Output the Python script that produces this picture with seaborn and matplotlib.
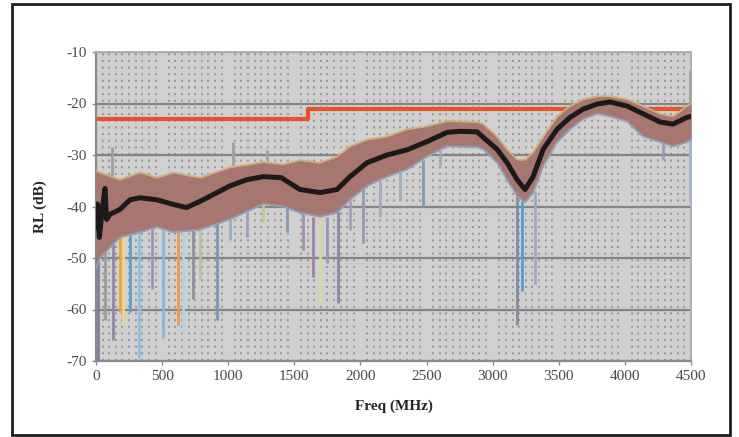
import numpy as np
import pandas as pd
import seaborn as sns
from matplotlib import pyplot as plt
from matplotlib.patches import Rectangle
from matplotlib.ticker import MultipleLocator

# average return loss trace (black line), MHz / dB
mean_f = [0, 10, 25, 50, 68, 80, 106, 180, 257, 333, 461, 585, 685, 787, 885, 1013,
          1140, 1265, 1400, 1543, 1694, 1823, 1921, 2050, 2201, 2352, 2504, 2655,
          2753, 2882, 2930, 3033, 3109, 3185, 3245, 3306, 3382, 3487, 3585, 3684,
          3790, 3888, 4017, 4137, 4266, 4364, 4470, 4500]
mean_v = [-44, -39.5, -46, -40, -36.5, -42.5, -41.5, -40.6, -38.7, -38.3, -38.7, -39.6,
          -40.2, -39, -37.7, -36, -34.8, -34.2, -34.4, -36.7, -37.3, -36.7, -34.2,
          -31.5, -30, -29, -27.4, -25.6, -25.4, -25.5, -26.6, -28.9, -31.5, -34.8,
          -36.7, -34.2, -28.9, -25, -22.7, -21.1, -20.1, -19.7, -20.5, -22, -23.6,
          -24, -22.7, -22.5]

# spread of the individual traces (upper / lower edge of the dense band)
band_f = [0, 30, 180, 333, 461, 585, 787, 1013, 1265, 1415, 1543, 1694, 1823, 1921,
          2050, 2201, 2352, 2504, 2655, 2882, 2930, 3033, 3109, 3185, 3245, 3306,
          3382, 3487, 3585, 3684, 3790, 3888, 4017, 4137, 4266, 4364, 4470, 4500]
band_hi = [-33, -33.4, -34.8, -33.4, -34.4, -33.4, -34.4, -32.4, -31.4, -31.8, -31,
           -31.5, -30.3, -28.3, -27, -26.4, -25, -24.4, -23.4, -23.6, -24, -26.4,
           -28.9, -30.9, -30.9, -29.5, -26.4, -22.5, -20.5, -19.2, -18.6, -18.6,
           -19.2, -20.5, -22, -22.5, -20.5, -20]
band_lo = [-52, -50, -46, -45, -44, -45, -44.5, -42.5, -39.5, -40, -41.2, -42, -41.2,
           -38.7, -36, -34.2, -32.8, -30.3, -28.3, -28.5, -28.9, -31.5, -34.8, -38,
           -39.2, -37.3, -32.2, -27.5, -25, -23, -22, -22.5, -23.5, -26.4, -27.5,
           -28.3, -27.5, -27]

# downward spikes of single traces
dip_f = [15, 68, 130, 180, 205, 257, 325, 424, 507, 620, 658, 734, 787, 915, 1013,
         1140, 1265, 1445, 1566, 1642, 1694, 1747, 1830, 1921, 2020, 2148, 2300,
         2473, 2602, 3185, 3220, 3320, 4290, 4495]
dip_top = [-45, -46, -46, -46, -46, -45, -45, -44, -44, -45, -45, -44, -44, -43, -42,
           -41, -39, -40, -41, -42, -42, -42, -41, -38.7, -36.5, -35, -33, -31, -29,
           -38, -39, -37, -27.5, -27]
dip_bot = [-70, -62, -66, -60.5, -63, -60.5, -69.5, -56, -65.5, -63, -64.5, -58, -54,
           -62, -46.5, -46, -43, -45, -48.4, -53.7, -58.8, -51, -58.8, -44.5, -47,
           -42, -38.7, -40, -32, -63, -56.4, -55, -31, -39]
dip_col = ['#7f7f9f', '#9a9a9a', '#8c88a8', '#f0a040', '#e8d890', '#5aa0d0', '#8cc0e0',
           '#9a98b0', '#88b8d8', '#f09a50', '#b8d0e0', '#9090a0', '#c0c0a0', '#7898b8',
           '#98b0c8', '#a0a0b8', '#c0c890', '#8898b0', '#a090a8', '#a080a8', '#d8d8a0',
           '#9898b8', '#8888a8', '#a0a0c0', '#9898b0', '#a8a8c0', '#a0b0c0', '#8898a8',
           '#a8a8b8', '#8888a0', '#4aa0d8', '#a0a8c8', '#9aa0b0', '#a0b8d8']

# upward spikes
peak_f = [120, 1036, 1290, 4495]
peak_bot = [-34, -32, -31, -20]
peak_top = [-28.5, -27.5, -29, -13.5]

# limit line
limit_f = [0, 1600, 4500]
limit_v = [-23, -21, -21]

x_ticks = list(range(0, 4501, 500))
y_ticks = list(range(-70, -9, 10))

sns.set_style('white')
plt.rcParams['font.family'] = ['Liberation Serif', 'DejaVu Serif']
plt.rcParams['axes.unicode_minus'] = False

fig = plt.figure(figsize=(7.39, 4.37), dpi=100)
ax = fig.add_axes([96 / 739, 1 - 361 / 437, 595 / 739, 309 / 437])
ax.set_facecolor('#d0d0d0')
ax.set_axisbelow(True)

# dotted background texture and grid
ax.xaxis.set_minor_locator(MultipleLocator(50))
ax.grid(which='minor', axis='x', color='#999999', linestyle=(0, (1, 2.3)), linewidth=1.45)
ax.grid(which='major', axis='y', color='#858585', linewidth=1.6)
ax.grid(which='major', axis='x', visible=False)

limit_df = pd.DataFrame({'f': limit_f, 'v': limit_v})
sns.lineplot(data=limit_df, x='f', y='v', ax=ax, color='#e8502e', linewidth=3,
             drawstyle='steps-post', zorder=2)

ax.vlines(dip_f, dip_bot, dip_top, colors=dip_col, linewidth=2, zorder=3)
ax.fill_between(band_f, band_lo, band_hi, color='#a87670', linewidth=0, zorder=4)
sns.lineplot(x=band_f, y=band_hi, ax=ax, color='#cdb07a', linewidth=1.3, zorder=4)
sns.lineplot(x=band_f, y=band_lo, ax=ax, color='#8fa2b6', linewidth=1.3, zorder=4)
ax.vlines(peak_f, peak_bot, peak_top, colors='#a89a9c', linewidth=2, zorder=4)

mean_df = pd.DataFrame({'f': mean_f, 'v': mean_v})
sns.lineplot(data=mean_df, x='f', y='v', ax=ax, color='#1a1a1a', linewidth=3.6,
             sort=False, zorder=5)

ax.set_xlim(0, 4500)
ax.set_ylim(-70, -10)
ax.set_xticks(x_ticks)
ax.set_yticks(y_ticks)
ax.tick_params(which='major', direction='out', length=3, width=1, color='#8a8a8a',
               labelsize=11, labelcolor='#4a4a4a', bottom=True, left=True)
ax.tick_params(which='minor', length=0)

for side in ['top', 'right']:
    ax.spines[side].set_color('#b0b0b0')
    ax.spines[side].set_linewidth(1.4)
for side in ['left', 'bottom']:
    ax.spines[side].set_color('#8a8a8a')
    ax.spines[side].set_linewidth(1.6)

ax.set_xlabel('Freq (MHz)', fontsize=11, fontweight='bold', labelpad=12)
ax.set_ylabel('RL (dB)', fontsize=11, fontweight='bold', labelpad=14)

fig.patches.append(Rectangle((12 / 739, 1 - 435 / 437), 718 / 739, 431 / 437,
                             transform=fig.transFigure, fill=False,
                             edgecolor='#1e1e1e', linewidth=2))

fig.savefig('out.png', dpi=100)
